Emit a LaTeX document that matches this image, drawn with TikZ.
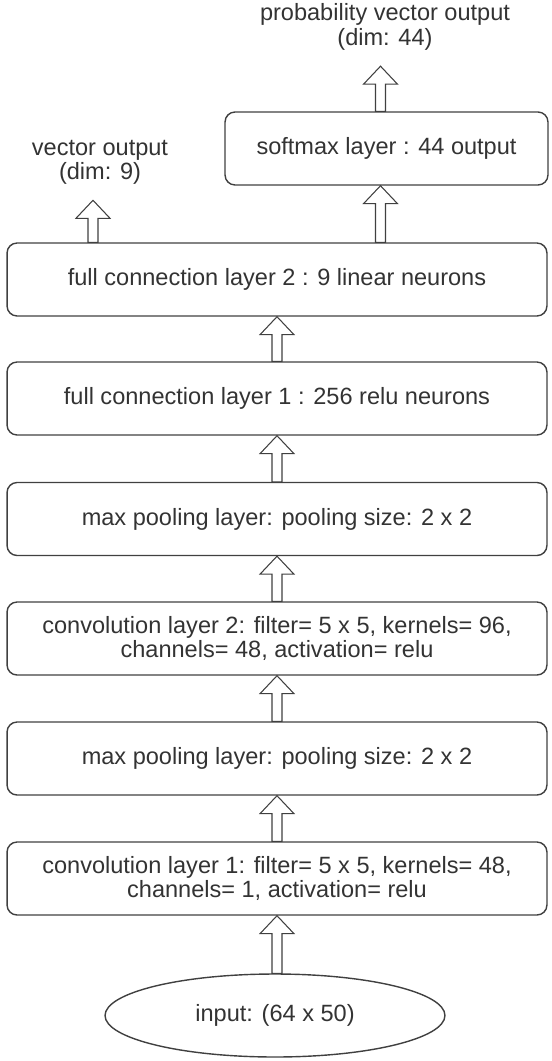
\documentclass[tikz,border=0pt]{standalone}
\usepackage{fontspec}
\setmainfont{Liberation Sans}
\usetikzlibrary{calc,shapes.geometric}

\definecolor{linegray}{HTML}{404040}
\definecolor{textgray}{HTML}{333333}

\tikzset{
	layerbox/.style={draw=linegray,line width=0.8pt,rounded corners=0.2cm,
		minimum width=10.8cm,minimum height=1.46cm,align=center,
		text=textgray,font=\fontsize{13.4}{13.2}\selectfont},
	outtext/.style={align=center,text=textgray,inner sep=1pt,
		font=\fontsize{13.4}{13.8}\selectfont},
	blockarrow/.style={draw=linegray,line width=0.6pt,fill=white,line join=miter}
}

% hollow up arrow: #1 = foot, #2 = tip
\newcommand{\hollowarrow}[2]{%
	\draw[blockarrow] ($(#1)+(-5,0)$) -- ($(#2)+(-5,18)$) -- ($(#2)+(-17,18)$)
		-- (#2) -- ($(#2)+(17,18)$) -- ($(#2)+(5,18)$) -- ($(#1)+(5,0)$) -- cycle;}

\begin{document}
\begin{tikzpicture}[x=0.02cm,y=-0.02cm]
	\useasboundingbox (0,0) rectangle (551,1061);
	
	\node[outtext] (probout) at (385,27) {probability vector output\\(dim: 44)};
	\node[layerbox,minimum width=6.46cm] (softmax) at (386.5,148.5) {softmax layer : 44 output};
	\node[outtext] (vecout) at (100,162) {vector output\\(dim: 9)};
	
	\node[layerbox] (fc2) at (277,279.5) {full connection layer 2 : 9 linear neurons};
	\node[layerbox] (fc1) at (277,398.5) {full connection layer 1 : 256 relu neurons};
	\node[layerbox] (pool2) at (277,519) {max pooling layer: pooling size: 2 x 2};
	\node[layerbox] (conv2) at (277,638.5) {convolution layer 2: filter= 5 x 5, kernels= 96,\\channels= 48, activation= relu};
	\node[layerbox] (pool1) at (277,758.5) {max pooling layer: pooling size: 2 x 2};
	\node[layerbox] (conv1) at (277,878.5) {convolution layer 1: filter= 5 x 5, kernels= 48,\\channels= 1, activation= relu};
	
	\node[ellipse,draw=linegray,line width=0.8pt,minimum width=6.8cm,minimum height=1.66cm,
		text=textgray,font=\fontsize{13.4}{14}\selectfont] (input) at (275,1015.5) {input: (64 x 50)};
	
	% arrows
	\hollowarrow{input.north -| conv1.south}{conv1.south}
	\hollowarrow{conv1.north}{pool1.south}
	\hollowarrow{pool1.north}{conv2.south}
	\hollowarrow{conv2.north}{pool2.south}
	\hollowarrow{pool2.north}{fc1.south}
	\hollowarrow{fc1.north}{fc2.south}
	\hollowarrow{$(fc2.north -| softmax.south)+(-6,0)$}{$(softmax.south)+(-6,0)$}
	\hollowarrow{$(fc2.north)+(-184,0)$}{$(vecout.south)+(-7,14)$}
	\hollowarrow{$(softmax.north)+(-6,0)$}{$(softmax.north |- probout.south)+(-6,14)$}
	
\end{tikzpicture}
\end{document}
